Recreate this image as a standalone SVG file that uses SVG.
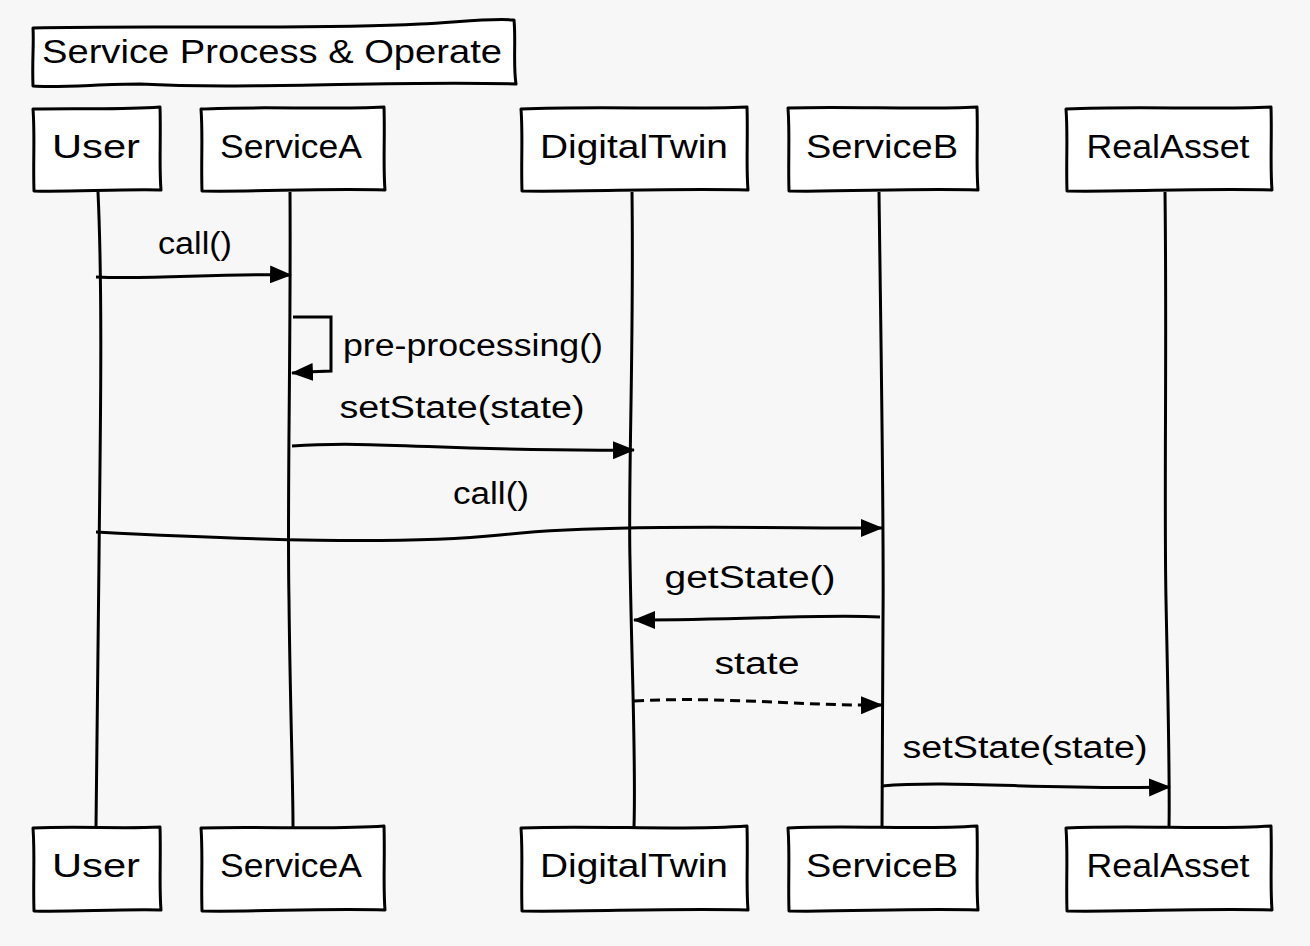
<svg xmlns="http://www.w3.org/2000/svg" width="1310" height="946" viewBox="0 0 1310 946">
<defs>
<marker id="ah" viewBox="0 0 22 18" refX="21" refY="9" markerWidth="22" markerHeight="18" markerUnits="userSpaceOnUse" orient="auto">
<path d="M0,0 L22,9 L0,18 Z" fill="#000"/>
</marker>
</defs>
<style>
.box{fill:#fff;stroke:#000;stroke-width:3;stroke-linejoin:round}
.life{fill:none;stroke:#000;stroke-width:3}
.msg{fill:none;stroke:#000;stroke-width:3;marker-end:url(#ah)}
.dash{stroke-dasharray:10 6}
.lbl{font-family:"Liberation Sans",Arial,sans-serif;font-size:31px;fill:#000;text-anchor:middle}
.name{font-family:"Liberation Sans",Arial,sans-serif;font-size:34px;fill:#000;text-anchor:middle}
</style>
<rect width="1310" height="946" fill="#f7f7f7"/>

<g id="title">
<path class="box" d="M33,28 C150,25 300,30 420,24 C460,22 490,18 514,20 C516,40 513,65 516,84 C400,80 250,90 140,84 C100,84 60,88 33,86 C32,60 34,45 33,28 Z"/>
<text x="42" y="63" font-family="Liberation Sans,Arial,sans-serif" font-size="34" fill="#000" textLength="460" lengthAdjust="spacingAndGlyphs">Service Process &amp; Operate</text>
</g>

<g id="lifelines">
<path class="life" d="M98,192 C103,300 100,450 99,560 C98,680 97,760 96,827"/>
<path class="life" d="M290,192 C291,350 287,500 289,600 C290,700 293,780 293,827"/>
<path class="life" d="M632,192 C634,350 628,480 630,560 C632,680 636,760 634,827"/>
<path class="life" d="M879,192 C881,350 884,520 883,620 C882,720 882,780 882,827"/>
<path class="life" d="M1165,192 C1167,350 1164,500 1166,600 C1168,700 1170,780 1169,827"/>
</g>

<g id="node-user-top"><path class="box" d="M33,109 C80,108 120,110 160,107 C161,140 159,165 161,190 C120,189 70,192 34,191 C33,160 35,135 33,109 Z"/><text class="name" x="96" y="158" textLength="88" lengthAdjust="spacingAndGlyphs">User</text></g>
<g id="node-servicea-top"><path class="box" d="M201,109 C260,106 330,110 384,107 C385,140 383,165 385,190 C320,188 260,192 202,191 C201,160 203,135 201,109 Z"/><text class="name" x="291" y="158" textLength="142" lengthAdjust="spacingAndGlyphs">ServiceA</text></g>
<g id="node-digitaltwin-top"><path class="box" d="M521,109 C600,106 680,110 747,107 C748,140 746,165 748,190 C670,188 590,192 522,191 C521,160 523,135 521,109 Z"/><text class="name" x="634" y="158" textLength="188" lengthAdjust="spacingAndGlyphs">DigitalTwin</text></g>
<g id="node-serviceb-top"><path class="box" d="M788,108 C850,106 920,110 977,107 C978,140 976,165 978,190 C910,188 850,192 789,191 C788,160 790,135 788,108 Z"/><text class="name" x="882" y="158" textLength="152" lengthAdjust="spacingAndGlyphs">ServiceB</text></g>
<g id="node-realasset-top"><path class="box" d="M1066,109 C1140,106 1210,110 1271,107 C1272,140 1270,165 1272,190 C1200,188 1130,192 1067,191 C1066,160 1068,135 1066,109 Z"/><text class="name" x="1168" y="158" textLength="163" lengthAdjust="spacingAndGlyphs">RealAsset</text></g>

<g id="node-user-bottom"><path class="box" d="M33,828 C80,826 120,829 160,827 C161,860 159,885 161,910 C120,909 70,912 34,911 C33,880 35,855 33,828 Z"/><text class="name" x="96" y="877" textLength="88" lengthAdjust="spacingAndGlyphs">User</text></g>
<g id="node-servicea-bottom"><path class="box" d="M201,828 C260,826 330,830 384,826 C385,860 383,885 385,910 C320,908 260,912 202,911 C201,880 203,855 201,828 Z"/><text class="name" x="291" y="877" textLength="142" lengthAdjust="spacingAndGlyphs">ServiceA</text></g>
<g id="node-digitaltwin-bottom"><path class="box" d="M521,828 C600,825 680,831 747,826 C748,860 746,885 748,910 C670,908 590,912 522,911 C521,880 523,855 521,828 Z"/><text class="name" x="634" y="877" textLength="188" lengthAdjust="spacingAndGlyphs">DigitalTwin</text></g>
<g id="node-serviceb-bottom"><path class="box" d="M788,828 C850,825 920,830 977,826 C978,860 976,885 978,910 C910,908 850,912 789,911 C788,880 790,855 788,828 Z"/><text class="name" x="882" y="877" textLength="152" lengthAdjust="spacingAndGlyphs">ServiceB</text></g>
<g id="node-realasset-bottom"><path class="box" d="M1066,828 C1140,825 1210,830 1271,826 C1272,860 1270,885 1272,910 C1200,908 1130,912 1067,911 C1066,880 1068,855 1066,828 Z"/><text class="name" x="1168" y="877" textLength="163" lengthAdjust="spacingAndGlyphs">RealAsset</text></g>

<g id="connectors">
<path class="msg" d="M96,277 C150,280 220,273 291,275"/>
<text class="lbl" x="195" y="254" textLength="74" lengthAdjust="spacingAndGlyphs">call()</text>

<path d="M293,317 L331,317 L331,371 L305,372" fill="none" stroke="#000" stroke-width="3"/>
<path class="msg" d="M312,372 L292,373"/>
<text class="lbl" x="473" y="356" textLength="260" lengthAdjust="spacingAndGlyphs">pre-processing()</text>

<path class="msg" d="M292,446 C380,440 450,452 634,450"/>
<text class="lbl" x="462" y="418" textLength="245" lengthAdjust="spacingAndGlyphs">setState(state)</text>

<path class="msg" d="M96,532 C250,540 400,545 500,535 C600,524 750,528 882,528"/>
<text class="lbl" x="491" y="504" textLength="76" lengthAdjust="spacingAndGlyphs">call()</text>

<path class="msg" d="M880,617 C820,614 750,620 634,620"/>
<text class="lbl" x="750" y="588" textLength="171" lengthAdjust="spacingAndGlyphs">getState()</text>

<path class="msg dash" d="M634,701 C720,696 800,706 882,705"/>
<text class="lbl" x="757" y="674" textLength="85" lengthAdjust="spacingAndGlyphs">state</text>

<path class="msg" d="M882,786 C950,780 1050,790 1170,787"/>
<text class="lbl" x="1025" y="758" textLength="245" lengthAdjust="spacingAndGlyphs">setState(state)</text>
</g>
</svg>
